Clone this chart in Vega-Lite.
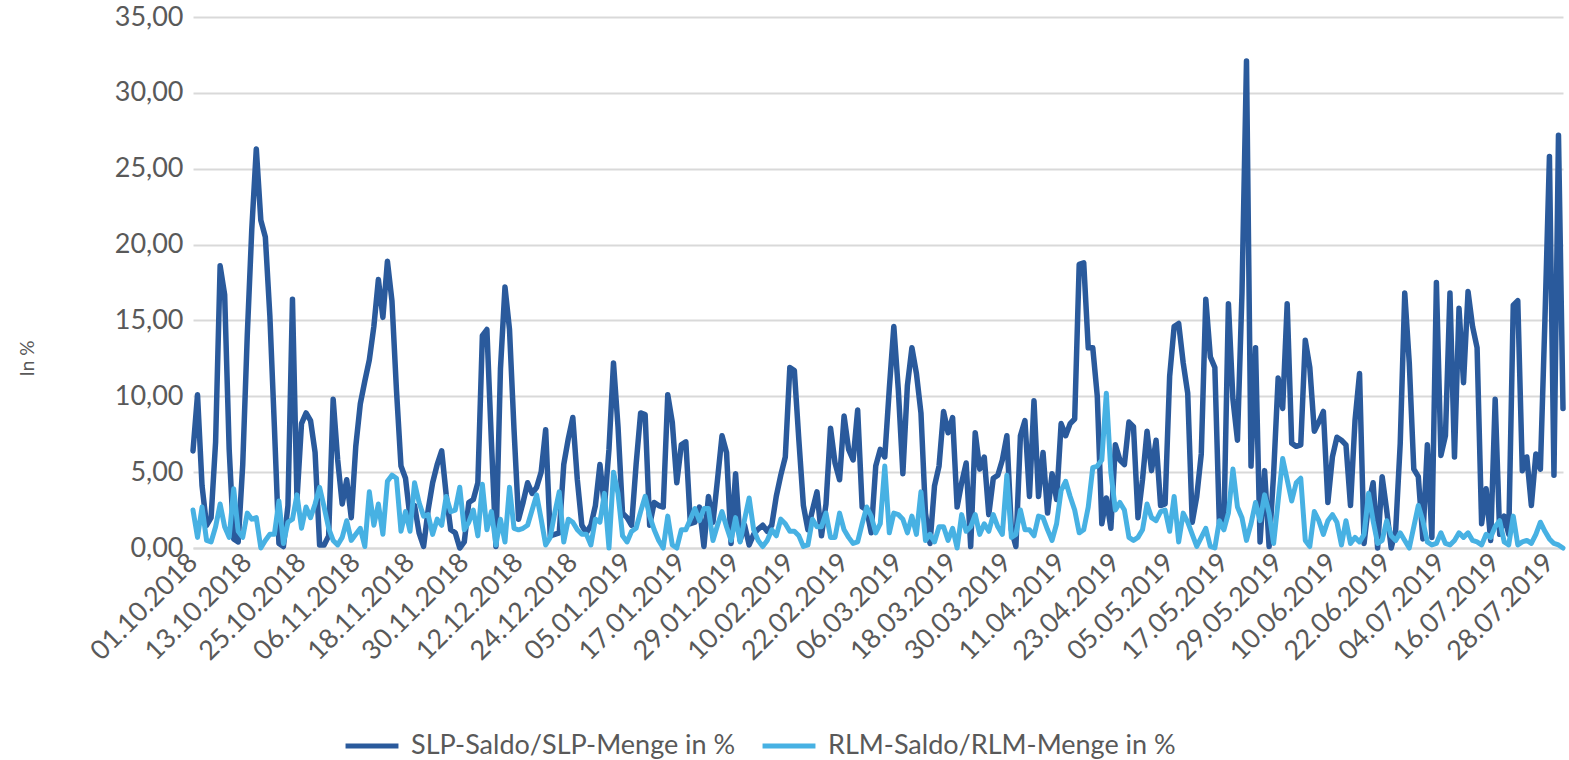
{
 "$schema": "https://vega.github.io/schema/vega-lite/v6.json",
 "width": 1370, "height": 531,
 "autosize": "none",
 "padding": {"left": 193, "top": 17, "right": 6, "bottom": 212},
 "config": {"view": {"stroke": null}, "font": "Lato"},
 "data": {"values": [
{"d":"2018/10/01","s":6.4,"r":2.5},{"d":"2018/10/02","s":10.1,"r":0.7},{"d":"2018/10/03","s":4.1,"r":2.7},{"d":"2018/10/04","s":1.5,"r":0.5},{"d":"2018/10/05","s":2.0,"r":0.4},{"d":"2018/10/06","s":7.0,"r":1.4},{"d":"2018/10/07","s":18.6,"r":2.9},{"d":"2018/10/08","s":16.7,"r":1.4},{"d":"2018/10/09","s":6.5,"r":0.7},{"d":"2018/10/10","s":0.6,"r":3.9},
{"d":"2018/10/11","s":0.4,"r":1.1},{"d":"2018/10/12","s":5.5,"r":0.7},{"d":"2018/10/13","s":14.0,"r":2.3},{"d":"2018/10/14","s":21.0,"r":1.9},{"d":"2018/10/15","s":26.3,"r":2.0},{"d":"2018/10/16","s":21.6,"r":0.0},{"d":"2018/10/17","s":20.5,"r":0.5},{"d":"2018/10/18","s":15.3,"r":0.9},{"d":"2018/10/19","s":8.0,"r":0.9},{"d":"2018/10/20","s":0.3,"r":3.1},
{"d":"2018/10/21","s":0.1,"r":0.3},{"d":"2018/10/22","s":2.8,"r":1.7},{"d":"2018/10/23","s":16.4,"r":1.9},{"d":"2018/10/24","s":3.2,"r":3.5},{"d":"2018/10/25","s":8.2,"r":1.3},{"d":"2018/10/26","s":8.9,"r":2.7},{"d":"2018/10/27","s":8.4,"r":2.0},{"d":"2018/10/28","s":6.3,"r":2.9},{"d":"2018/10/29","s":0.2,"r":4.0},{"d":"2018/10/30","s":0.2,"r":2.7},{"d":"2018/10/31","s":0.8,"r":1.3},
{"d":"2018/11/01","s":9.8,"r":0.5},{"d":"2018/11/02","s":5.8,"r":0.2},{"d":"2018/11/03","s":2.9,"r":0.7},{"d":"2018/11/04","s":4.5,"r":1.8},{"d":"2018/11/05","s":2.0,"r":0.5},{"d":"2018/11/06","s":6.7,"r":0.9},{"d":"2018/11/07","s":9.5,"r":1.3},{"d":"2018/11/08","s":11.0,"r":0.1},{"d":"2018/11/09","s":12.4,"r":3.7},{"d":"2018/11/10","s":14.6,"r":1.5},
{"d":"2018/11/11","s":17.7,"r":2.9},{"d":"2018/11/12","s":15.2,"r":0.9},{"d":"2018/11/13","s":18.9,"r":4.4},{"d":"2018/11/14","s":16.3,"r":4.8},{"d":"2018/11/15","s":10.4,"r":4.6},{"d":"2018/11/16","s":5.4,"r":1.1},{"d":"2018/11/17","s":4.6,"r":2.4},{"d":"2018/11/18","s":2.0,"r":1.1},{"d":"2018/11/19","s":2.8,"r":4.3},{"d":"2018/11/20","s":1.0,"r":3.0},
{"d":"2018/11/21","s":0.1,"r":2.1},{"d":"2018/11/22","s":2.5,"r":2.2},{"d":"2018/11/23","s":4.3,"r":0.9},{"d":"2018/11/24","s":5.5,"r":1.9},{"d":"2018/11/25","s":6.4,"r":1.5},{"d":"2018/11/26","s":3.5,"r":3.4},{"d":"2018/11/27","s":1.2,"r":2.4},{"d":"2018/11/28","s":1.0,"r":2.5},{"d":"2018/11/29","s":0.0,"r":4.0},{"d":"2018/11/30","s":0.4,"r":1.2},
{"d":"2018/12/01","s":3.0,"r":1.7},{"d":"2018/12/02","s":3.2,"r":2.5},{"d":"2018/12/03","s":4.3,"r":0.8},{"d":"2018/12/04","s":14.0,"r":4.2},{"d":"2018/12/05","s":14.4,"r":1.2},{"d":"2018/12/06","s":7.0,"r":2.4},{"d":"2018/12/07","s":0.1,"r":0.2},{"d":"2018/12/08","s":11.8,"r":1.9},{"d":"2018/12/09","s":17.2,"r":0.4},{"d":"2018/12/10","s":14.4,"r":4.0},
{"d":"2018/12/11","s":7.8,"r":1.3},{"d":"2018/12/12","s":1.9,"r":1.2},{"d":"2018/12/13","s":3.0,"r":1.3},{"d":"2018/12/14","s":4.3,"r":1.5},{"d":"2018/12/15","s":3.6,"r":2.5},{"d":"2018/12/16","s":4.0,"r":3.5},{"d":"2018/12/17","s":5.0,"r":1.9},{"d":"2018/12/18","s":7.8,"r":0.2},{"d":"2018/12/19","s":0.8,"r":0.7},{"d":"2018/12/20","s":0.9,"r":2.3},
{"d":"2018/12/21","s":1.0,"r":3.7},{"d":"2018/12/22","s":5.5,"r":0.4},{"d":"2018/12/23","s":7.2,"r":1.9},{"d":"2018/12/24","s":8.6,"r":1.7},{"d":"2018/12/25","s":4.5,"r":1.2},{"d":"2018/12/26","s":1.5,"r":0.9},{"d":"2018/12/27","s":1.0,"r":0.9},{"d":"2018/12/28","s":1.5,"r":0.2},{"d":"2018/12/29","s":2.8,"r":1.9},{"d":"2018/12/30","s":5.5,"r":1.7},{"d":"2018/12/31","s":2.7,"r":3.6},
{"d":"2019/01/01","s":6.5,"r":0.0},{"d":"2019/01/02","s":12.2,"r":5.0},{"d":"2019/01/03","s":8.0,"r":3.6},{"d":"2019/01/04","s":2.3,"r":0.8},{"d":"2019/01/05","s":2.0,"r":0.4},{"d":"2019/01/06","s":1.5,"r":1.1},{"d":"2019/01/07","s":5.5,"r":1.3},{"d":"2019/01/08","s":8.9,"r":2.4},{"d":"2019/01/09","s":8.8,"r":3.4},{"d":"2019/01/10","s":1.5,"r":2.1},
{"d":"2019/01/11","s":3.0,"r":1.2},{"d":"2019/01/12","s":2.8,"r":0.5},{"d":"2019/01/13","s":2.7,"r":0.0},{"d":"2019/01/14","s":10.1,"r":2.1},{"d":"2019/01/15","s":8.3,"r":0.2},{"d":"2019/01/16","s":4.3,"r":0.0},{"d":"2019/01/17","s":6.8,"r":1.2},{"d":"2019/01/18","s":7.0,"r":1.2},{"d":"2019/01/19","s":1.6,"r":1.9},{"d":"2019/01/20","s":1.7,"r":2.6},
{"d":"2019/01/21","s":2.7,"r":1.8},{"d":"2019/01/22","s":0.1,"r":2.6},{"d":"2019/01/23","s":3.4,"r":2.6},{"d":"2019/01/24","s":1.7,"r":0.5},{"d":"2019/01/25","s":4.5,"r":1.5},{"d":"2019/01/26","s":7.4,"r":2.4},{"d":"2019/01/27","s":6.3,"r":1.4},{"d":"2019/01/28","s":0.3,"r":0.5},{"d":"2019/01/29","s":4.9,"r":2.0},{"d":"2019/01/30","s":0.5,"r":0.4},{"d":"2019/01/31","s":1.5,"r":1.9},
{"d":"2019/02/01","s":0.2,"r":3.3},{"d":"2019/02/02","s":0.9,"r":1.2},{"d":"2019/02/03","s":1.25,"r":0.5},{"d":"2019/02/04","s":1.5,"r":0.1},{"d":"2019/02/05","s":1.1,"r":0.5},{"d":"2019/02/06","s":1.5,"r":1.2},{"d":"2019/02/07","s":3.4,"r":0.8},{"d":"2019/02/08","s":4.8,"r":1.9},{"d":"2019/02/09","s":6.0,"r":1.6},{"d":"2019/02/10","s":11.9,"r":1.1},
{"d":"2019/02/11","s":11.7,"r":1.1},{"d":"2019/02/12","s":7.1,"r":0.8},{"d":"2019/02/13","s":2.8,"r":0.1},{"d":"2019/02/14","s":1.2,"r":0.2},{"d":"2019/02/15","s":2.5,"r":1.9},{"d":"2019/02/16","s":3.7,"r":1.4},{"d":"2019/02/17","s":0.8,"r":1.4},{"d":"2019/02/18","s":2.9,"r":2.3},{"d":"2019/02/19","s":7.9,"r":0.7},{"d":"2019/02/20","s":5.6,"r":0.7},
{"d":"2019/02/21","s":4.5,"r":2.3},{"d":"2019/02/22","s":8.7,"r":1.2},{"d":"2019/02/23","s":6.5,"r":0.7},{"d":"2019/02/24","s":5.8,"r":0.3},{"d":"2019/02/25","s":9.1,"r":0.4},{"d":"2019/02/26","s":2.7,"r":1.6},{"d":"2019/02/27","s":2.5,"r":2.7},{"d":"2019/02/28","s":1.0,"r":2.1},
{"d":"2019/03/01","s":5.4,"r":1.0},{"d":"2019/03/02","s":6.5,"r":1.6},{"d":"2019/03/03","s":6.0,"r":5.4},{"d":"2019/03/04","s":10.5,"r":1.0},{"d":"2019/03/05","s":14.6,"r":2.3},{"d":"2019/03/06","s":10.4,"r":2.2},{"d":"2019/03/07","s":4.9,"r":1.9},{"d":"2019/03/08","s":10.7,"r":1.0},{"d":"2019/03/09","s":13.2,"r":2.1},{"d":"2019/03/10","s":11.5,"r":0.9},
{"d":"2019/03/11","s":8.9,"r":3.7},{"d":"2019/03/12","s":2.3,"r":0.5},{"d":"2019/03/13","s":0.3,"r":0.9},{"d":"2019/03/14","s":4.1,"r":0.4},{"d":"2019/03/15","s":5.4,"r":1.4},{"d":"2019/03/16","s":9.0,"r":1.4},{"d":"2019/03/17","s":7.6,"r":0.5},{"d":"2019/03/18","s":8.6,"r":1.3},{"d":"2019/03/19","s":2.7,"r":0.0},{"d":"2019/03/20","s":4.3,"r":2.2},
{"d":"2019/03/21","s":5.6,"r":1.1},{"d":"2019/03/22","s":0.1,"r":1.4},{"d":"2019/03/23","s":7.6,"r":2.2},{"d":"2019/03/24","s":5.2,"r":0.9},{"d":"2019/03/25","s":6.0,"r":1.6},{"d":"2019/03/26","s":2.2,"r":1.1},{"d":"2019/03/27","s":4.6,"r":2.2},{"d":"2019/03/28","s":4.8,"r":1.4},{"d":"2019/03/29","s":5.8,"r":0.9},{"d":"2019/03/30","s":7.4,"r":4.8},{"d":"2019/03/31","s":1.2,"r":0.7},
{"d":"2019/04/01","s":0.1,"r":0.9},{"d":"2019/04/02","s":7.4,"r":2.5},{"d":"2019/04/03","s":8.4,"r":1.2},{"d":"2019/04/04","s":3.4,"r":1.2},{"d":"2019/04/05","s":9.7,"r":0.8},{"d":"2019/04/06","s":3.4,"r":2.1},{"d":"2019/04/07","s":6.3,"r":2.0},{"d":"2019/04/08","s":2.3,"r":1.2},{"d":"2019/04/09","s":4.9,"r":0.5},{"d":"2019/04/10","s":3.2,"r":1.6},
{"d":"2019/04/11","s":8.2,"r":3.8},{"d":"2019/04/12","s":7.4,"r":4.4},{"d":"2019/04/13","s":8.2,"r":3.4},{"d":"2019/04/14","s":8.5,"r":2.5},{"d":"2019/04/15","s":18.7,"r":1.0},{"d":"2019/04/16","s":18.8,"r":1.2},{"d":"2019/04/17","s":13.2,"r":2.7},{"d":"2019/04/18","s":13.2,"r":5.3},{"d":"2019/04/19","s":10.0,"r":5.4},{"d":"2019/04/20","s":1.6,"r":5.8},
{"d":"2019/04/21","s":3.3,"r":10.2},{"d":"2019/04/22","s":1.3,"r":5.0},{"d":"2019/04/23","s":6.8,"r":2.5},{"d":"2019/04/24","s":5.8,"r":3.0},{"d":"2019/04/25","s":5.5,"r":2.5},{"d":"2019/04/26","s":8.3,"r":0.7},{"d":"2019/04/27","s":8.0,"r":0.5},{"d":"2019/04/28","s":2.0,"r":0.7},{"d":"2019/04/29","s":4.5,"r":1.2},{"d":"2019/04/30","s":7.7,"r":2.9},
{"d":"2019/05/01","s":5.1,"r":2.0},{"d":"2019/05/02","s":7.1,"r":1.8},{"d":"2019/05/03","s":2.8,"r":2.4},{"d":"2019/05/04","s":2.9,"r":2.5},{"d":"2019/05/05","s":11.3,"r":1.1},{"d":"2019/05/06","s":14.6,"r":3.4},{"d":"2019/05/07","s":14.8,"r":0.4},{"d":"2019/05/08","s":12.2,"r":2.3},{"d":"2019/05/09","s":10.2,"r":1.7},{"d":"2019/05/10","s":1.7,"r":0.9},
{"d":"2019/05/11","s":3.4,"r":0.1},{"d":"2019/05/12","s":6.2,"r":0.7},{"d":"2019/05/13","s":16.4,"r":1.3},{"d":"2019/05/14","s":12.6,"r":0.1},{"d":"2019/05/15","s":11.9,"r":0.0},{"d":"2019/05/16","s":1.6,"r":1.8},{"d":"2019/05/17","s":1.5,"r":1.2},{"d":"2019/05/18","s":16.1,"r":2.3},{"d":"2019/05/19","s":9.8,"r":5.2},{"d":"2019/05/20","s":7.1,"r":2.7},
{"d":"2019/05/21","s":16.8,"r":2.0},{"d":"2019/05/22","s":32.1,"r":0.5},{"d":"2019/05/23","s":5.4,"r":1.6},{"d":"2019/05/24","s":13.2,"r":3.0},{"d":"2019/05/25","s":0.4,"r":1.8},{"d":"2019/05/26","s":5.1,"r":3.5},{"d":"2019/05/27","s":0.1,"r":2.3},{"d":"2019/05/28","s":4.9,"r":0.3},{"d":"2019/05/29","s":11.2,"r":3.1},{"d":"2019/05/30","s":9.2,"r":5.9},{"d":"2019/05/31","s":16.1,"r":4.5},
{"d":"2019/06/01","s":6.9,"r":3.1},{"d":"2019/06/02","s":6.7,"r":4.3},{"d":"2019/06/03","s":6.8,"r":4.6},{"d":"2019/06/04","s":13.7,"r":0.5},{"d":"2019/06/05","s":11.9,"r":0.1},{"d":"2019/06/06","s":7.7,"r":2.4},{"d":"2019/06/07","s":8.3,"r":1.8},{"d":"2019/06/08","s":9.0,"r":0.9},{"d":"2019/06/09","s":3.0,"r":1.8},{"d":"2019/06/10","s":6.0,"r":2.2},
{"d":"2019/06/11","s":7.3,"r":1.7},{"d":"2019/06/12","s":7.1,"r":0.2},{"d":"2019/06/13","s":6.8,"r":1.8},{"d":"2019/06/14","s":2.8,"r":0.3},{"d":"2019/06/15","s":8.4,"r":0.7},{"d":"2019/06/16","s":11.5,"r":0.4},{"d":"2019/06/17","s":0.3,"r":0.9},{"d":"2019/06/18","s":2.9,"r":3.6},{"d":"2019/06/19","s":4.3,"r":1.8},{"d":"2019/06/20","s":0.0,"r":0.3},
{"d":"2019/06/21","s":4.7,"r":0.5},{"d":"2019/06/22","s":2.5,"r":1.8},{"d":"2019/06/23","s":0.0,"r":0.8},{"d":"2019/06/24","s":1.2,"r":0.5},{"d":"2019/06/25","s":6.9,"r":1.0},{"d":"2019/06/26","s":16.8,"r":0.5},{"d":"2019/06/27","s":12.2,"r":0.0},{"d":"2019/06/28","s":5.2,"r":1.4},{"d":"2019/06/29","s":4.7,"r":2.8},{"d":"2019/06/30","s":0.6,"r":1.8},
{"d":"2019/07/01","s":6.8,"r":0.4},{"d":"2019/07/02","s":0.7,"r":0.2},{"d":"2019/07/03","s":17.5,"r":0.3},{"d":"2019/07/04","s":6.1,"r":1.0},{"d":"2019/07/05","s":7.4,"r":0.3},{"d":"2019/07/06","s":16.8,"r":0.2},{"d":"2019/07/07","s":6.0,"r":0.5},{"d":"2019/07/08","s":15.8,"r":1.0},{"d":"2019/07/09","s":10.9,"r":0.7},{"d":"2019/07/10","s":16.9,"r":1.0},
{"d":"2019/07/11","s":14.6,"r":0.5},{"d":"2019/07/12","s":13.2,"r":0.4},{"d":"2019/07/13","s":1.6,"r":0.2},{"d":"2019/07/14","s":3.9,"r":0.9},{"d":"2019/07/15","s":0.5,"r":0.7},{"d":"2019/07/16","s":9.8,"r":1.4},{"d":"2019/07/17","s":0.9,"r":1.8},{"d":"2019/07/18","s":2.1,"r":0.4},{"d":"2019/07/19","s":0.9,"r":0.2},{"d":"2019/07/20","s":16.0,"r":2.1},
{"d":"2019/07/21","s":16.3,"r":0.2},{"d":"2019/07/22","s":5.1,"r":0.4},{"d":"2019/07/23","s":6.0,"r":0.5},{"d":"2019/07/24","s":2.8,"r":0.3},{"d":"2019/07/25","s":6.2,"r":0.9},{"d":"2019/07/26","s":5.2,"r":1.7},{"d":"2019/07/27","s":15.0,"r":1.1},{"d":"2019/07/28","s":25.8,"r":0.6},{"d":"2019/07/29","s":4.8,"r":0.3},{"d":"2019/07/30","s":27.2,"r":0.2},{"d":"2019/07/31","s":9.2,"r":0.0}
 ]},
 "transform": [{"fold": ["s", "r"], "as": ["series", "value"]}],
 "encoding": {
  "x": {"field": "d", "type": "temporal",
   "scale": {"domain": [{"year": 2018, "month": 10, "date": 1}, {"year": 2019, "month": 7, "date": 31}], "nice": false},
   "axis": {"title": null, "format": "%d.%m.%Y", "labelAngle": -45, "labelAlign": "right", "labelBaseline": "middle",
    "labelFontSize": 27, "labelColor": "#595959", "labelPadding": 10, "labelOverlap": false, "labelFlush": false, "labelBound": false,
    "ticks": false, "grid": false, "domainColor": "#d9d9d9", "domainWidth": 2,
    "values": [
     {"year": 2018, "month": 10, "date": 1}, {"year": 2018, "month": 10, "date": 13}, {"year": 2018, "month": 10, "date": 25},
     {"year": 2018, "month": 11, "date": 6}, {"year": 2018, "month": 11, "date": 18}, {"year": 2018, "month": 11, "date": 30},
     {"year": 2018, "month": 12, "date": 12}, {"year": 2018, "month": 12, "date": 24}, {"year": 2019, "month": 1, "date": 5},
     {"year": 2019, "month": 1, "date": 17}, {"year": 2019, "month": 1, "date": 29}, {"year": 2019, "month": 2, "date": 10},
     {"year": 2019, "month": 2, "date": 22}, {"year": 2019, "month": 3, "date": 6}, {"year": 2019, "month": 3, "date": 18},
     {"year": 2019, "month": 3, "date": 30}, {"year": 2019, "month": 4, "date": 11}, {"year": 2019, "month": 4, "date": 23},
     {"year": 2019, "month": 5, "date": 5}, {"year": 2019, "month": 5, "date": 17}, {"year": 2019, "month": 5, "date": 29},
     {"year": 2019, "month": 6, "date": 10}, {"year": 2019, "month": 6, "date": 22}, {"year": 2019, "month": 7, "date": 4},
     {"year": 2019, "month": 7, "date": 16}, {"year": 2019, "month": 7, "date": 28}
    ]}},
  "y": {"field": "value", "type": "quantitative",
   "scale": {"domain": [0, 35], "nice": false},
   "axis": {"values": [0, 5, 10, 15, 20, 25, 30, 35],
    "labelExpr": "replace(format(datum.value, '.2f'), '.', ',')",
    "labelFontSize": 27, "labelColor": "#595959", "labelPadding": 10,
    "domain": false, "ticks": false, "gridColor": "#d9d9d9", "gridWidth": 2,
    "title": "In %", "titleFontSize": 19, "titleFontWeight": "normal", "titleColor": "#595959",
    "titleAngle": -90, "titleX": -166, "titleY": 341, "titleAlign": "center", "titleBaseline": "middle"}},
  "color": {"field": "series", "type": "nominal",
   "scale": {"domain": ["s", "r"], "range": ["#2a5a9c", "#47b1e3"]},
   "legend": {"orient": "none", "legendX": 150, "legendY": 700, "direction": "horizontal", "title": null,
    "symbolType": "stroke", "symbolStrokeWidth": 5, "symbolSize": 2800,
    "labelFontSize": 27, "labelColor": "#595959", "labelOffset": 10, "columnPadding": 16, "labelLimit": 0,
    "labelExpr": "datum.value == 's' ? 'SLP-Saldo/SLP-Menge in %' : 'RLM-Saldo/RLM-Menge in %'"}}
 },
 "layer": [
  {"transform": [{"filter": "datum.series == 's'"}], "mark": {"type": "line", "strokeWidth": 5.5, "strokeJoin": "round", "strokeCap": "round"}},
  {"transform": [{"filter": "datum.series == 'r'"}], "mark": {"type": "line", "strokeWidth": 5, "strokeJoin": "round", "strokeCap": "round"}}
 ]
}
